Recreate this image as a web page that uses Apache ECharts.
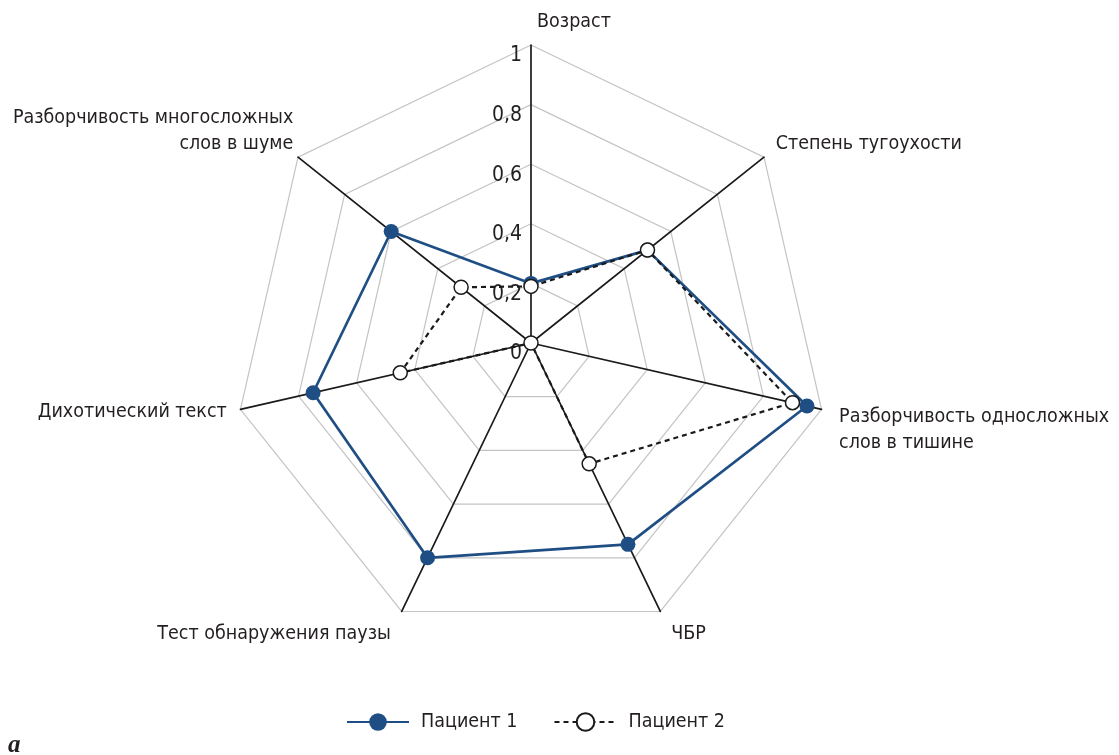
<!DOCTYPE html>
<html>
<head>
<meta charset="utf-8">
<script src="https://cdn.jsdelivr.net/npm/echarts@6/dist/echarts.min.js"></script>
<style>
  html, body { margin: 0; padding: 0; background: #fff; }
  #chart { width: 1119px; height: 755px; }
</style>
</head>
<body>
<div id="chart"></div>
<script>
// Radar axes, listed counter-clockwise from the top (ECharts radar order)
const indicators = [
  'Возраст',
  'Разборчивость многосложных\nслов в шуме',
  'Дихотический текст',
  'Тест обнаружения паузы',
  'ЧБР',
  'Разборчивость односложных\nслов в тишине',
  'Степень тугоухости'
];
const seriesNames = ['Пациент 1', 'Пациент 2'];
const patient1 = [0.20, 0.60, 0.75, 0.80, 0.75, 0.95, 0.50];
const patient2 = [0.19, 0.30, 0.45, 0.00, 0.45, 0.90, 0.50];
const tickLabels = ['0', '0,2', '0,4', '0,6', '0,8', '1'];

const FONT = '"Liberation Sans Narrow", "DejaVu Sans Condensed", "Roboto Condensed", "Arial Narrow", sans-serif';
const FS = 19.5;
const TEXT = '#231f20';
const BLUE = '#1f4e84';
const INK = '#1a1a1a';

// Per-axis name placement: gap from the axis end, horizontal padding and
// an optional spacer line (above or below) that nudges multi-line names
const nameLayout = [
  { gap: 10, pad: [0, 0, 0, 86] },
  { gap: 6, spacer: 'below', space: 46 },
  { gap: 14 },
  { gap: 25 },
  { gap: 25 },
  { gap: 18, spacer: 'above', space: 34 },
  { gap: 15, spacer: 'below', space: 8 }
];

const indicatorOpts = indicators.map((name, i) => {
  const lay = nameLayout[i];
  const o = { name: name, min: 0, max: 1, nameGap: lay.gap };
  if (lay.pad) o.nameTextStyle = { padding: lay.pad };
  if (i === 0) {
    // the value scale is printed along the top axis only
    o.axisLabel = {
      show: true,
      margin: 9,
      formatter: v => '{s| }\n{v|' + tickLabels[Math.round(v * 5)] + '}',
      rich: {
        s: { fontSize: 4, lineHeight: 22 },
        v: { fontFamily: FONT, fontSize: 21, color: TEXT, lineHeight: 22 }
      }
    };
  }
  return o;
});

// wraps every line of an axis name in rich tokens, adding the spacer line
function formatName(name) {
  const lay = nameLayout[indicators.indexOf(name)] || {};
  const lines = name.split('\n').map(l => '{t|' + l + '}');
  if (lay.spacer === 'above') lines.unshift('{s' + lay.space + '| }');
  if (lay.spacer === 'below') lines.push('{s' + lay.space + '| }');
  return lines.join('\n');
}

const nameRich = { t: { fontFamily: FONT, fontSize: FS, color: TEXT, lineHeight: 26 } };
nameLayout.forEach(l => {
  if (l.spacer) nameRich['s' + l.space] = { fontSize: 4, lineHeight: l.space };
});

const chart = echarts.init(document.getElementById('chart'), null, { renderer: 'canvas' });

chart.setOption({
  animation: false,
  backgroundColor: '#ffffff',
  title: {
    text: 'a',
    left: 3,
    top: 728,
    textStyle: { fontFamily: '"Liberation Serif", "DejaVu Serif", serif', fontStyle: 'italic', fontWeight: 'bold', fontSize: 25, color: TEXT }
  },
  legend: {
    data: seriesNames,
    left: 341,
    top: 707,
    itemWidth: 62,
    itemHeight: 22,
    itemGap: 36,
    selectedMode: false,
    textStyle: { fontFamily: FONT, fontSize: FS, color: TEXT, padding: [0, 0, 0, 7] }
  },
  // tiny hidden cartesian grid hosting the legend-only line series
  grid: { left: 0, top: 0, width: 1, height: 1, show: false },
  xAxis: { type: 'value', show: false },
  yAxis: { type: 'value', show: false },
  radar: {
    center: [531, 343],
    radius: 298,
    startAngle: 90,
    splitNumber: 5,
    shape: 'polygon',
    axisName: {
      fontFamily: FONT, fontSize: FS, color: TEXT,
      formatter: formatName,
      rich: nameRich
    },
    axisLine: { lineStyle: { color: INK, width: 1.7 } },
    splitLine: { lineStyle: { color: '#c4c4c4', width: 1.2 } },
    splitArea: { show: false },
    axisTick: { show: false },
    axisLabel: { show: false },
    indicator: indicatorOpts
  },
  series: [
    {
      type: 'line', name: seriesNames[0], data: [],
      symbol: 'circle', itemStyle: { color: BLUE },
      lineStyle: { color: BLUE, width: 3 }
    },
    {
      type: 'line', name: seriesNames[1], data: [],
      symbol: 'emptyCircle', itemStyle: { color: INK },
      lineStyle: { color: INK, width: 2.2, type: [5, 4] }
    },
    {
      type: 'radar',
      silent: true,
      data: [
        {
          name: seriesNames[0],
          value: patient1,
          symbol: 'circle',
          symbolSize: 15,
          itemStyle: { color: BLUE },
          lineStyle: { color: BLUE, width: 2.7 }
        },
        {
          name: seriesNames[1],
          value: patient2,
          symbol: 'circle',
          symbolSize: 14,
          itemStyle: { color: '#ffffff', borderColor: INK, borderWidth: 1.5 },
          lineStyle: { color: INK, width: 2.2, type: [5, 4] }
        }
      ]
    }
  ]
});
</script>
</body>
</html>
